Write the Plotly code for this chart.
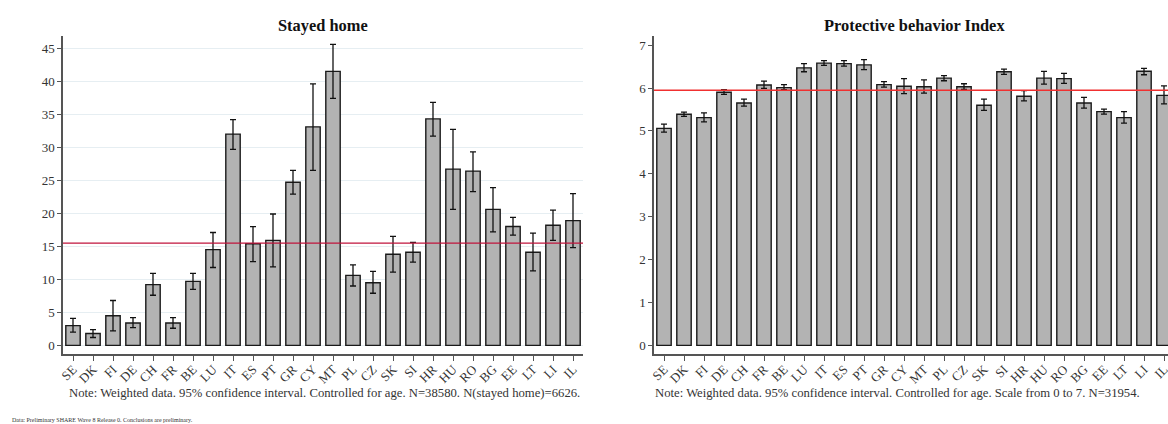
import plotly.graph_objects as go

countries = ["SE", "DK", "FI", "DE", "CH", "FR", "BE", "LU", "IT", "ES", "PT", "GR", "CY", "MT",
             "PL", "CZ", "SK", "SI", "HR", "HU", "RO", "BG", "EE", "LT", "LI", "IL"]

stayed_home = [3.0, 1.8, 4.5, 3.4, 9.2, 3.4, 9.7, 14.5, 32.0, 15.4, 15.9, 24.7, 33.1, 41.5,
               10.6, 9.5, 13.8, 14.1, 34.3, 26.7, 26.4, 20.6, 18.0, 14.1, 18.2, 18.9]
stayed_hi = [4.1, 2.4, 6.8, 4.2, 10.9, 4.2, 10.9, 17.1, 34.2, 18.0, 19.9, 26.5, 39.6, 45.6,
             12.2, 11.2, 16.5, 15.6, 36.8, 32.7, 29.3, 23.9, 19.4, 17.0, 20.5, 23.0]
stayed_lo = [2.0, 1.2, 2.2, 2.7, 7.6, 2.6, 8.5, 11.8, 29.7, 12.7, 11.9, 22.9, 26.5, 37.4,
             9.0, 7.9, 11.1, 12.6, 31.7, 20.6, 23.3, 17.2, 16.7, 11.3, 15.9, 14.8]
stayed_mean = 15.5

protect = [5.06, 5.39, 5.31, 5.90, 5.65, 6.07, 6.01, 6.47, 6.58, 6.57, 6.54, 6.08, 6.04, 6.03,
           6.23, 6.03, 5.60, 6.38, 5.81, 6.23, 6.22, 5.65, 5.45, 5.31, 6.39, 5.83]
protect_hi = [5.16, 5.44, 5.42, 5.96, 5.74, 6.16, 6.08, 6.57, 6.64, 6.64, 6.66, 6.15, 6.22, 6.19,
              6.29, 6.10, 5.74, 6.44, 5.94, 6.39, 6.34, 5.78, 5.51, 5.45, 6.46, 6.05]
protect_lo = [4.97, 5.34, 5.21, 5.85, 5.58, 5.99, 5.96, 6.38, 6.53, 6.51, 6.43, 6.02, 5.87, 5.88,
              6.17, 5.97, 5.48, 6.32, 5.70, 6.09, 6.11, 5.53, 5.39, 5.18, 6.31, 5.63]
protect_mean = 5.95

W, H = 1168, 424
FONT = "Liberation Serif"


def px(x):
    return x / W


def py(y):
    return 1 - y / H


bar_style = dict(marker=dict(color="#b3b3b3", line=dict(color="#1a1a1a", width=1.4)), width=0.72)


def err(vals, hi, lo):
    return dict(type="data", symmetric=False,
                array=[h - v for h, v in zip(hi, vals)],
                arrayminus=[v - l for v, l in zip(vals, lo)],
                color="#111111", thickness=1.3, width=3)


fig = go.Figure()
fig.add_trace(go.Bar(x=countries, y=stayed_home, error_y=err(stayed_home, stayed_hi, stayed_lo),
                     xaxis="x", yaxis="y", showlegend=False, **bar_style))
fig.add_trace(go.Bar(x=countries, y=protect, error_y=err(protect, protect_hi, protect_lo),
                     xaxis="x2", yaxis="y2", showlegend=False, **bar_style))

fig.add_shape(type="line", xref="x domain", yref="y", x0=0, x1=1, y0=stayed_mean, y1=stayed_mean,
              line=dict(color="#c0143c", width=1.3), layer="above")
fig.add_shape(type="line", xref="x2 domain", yref="y2", x0=0, x1=1.02, y0=protect_mean, y1=protect_mean,
              line=dict(color="#f03030", width=1.5), layer="above")

tickfont = dict(family=FONT, size=13, color="#333333")
common_x = dict(type="category", showgrid=False, showline=True, linecolor="#555555", linewidth=1.5,
                ticks="outside", ticklen=5, tickcolor="#555555", tickangle=-45, tickfont=tickfont,
                automargin=False, zeroline=False, ticklabelstandoff=-4)
common_y = dict(showline=True, linecolor="#555555", linewidth=1.5, ticks="outside", ticklen=4,
                tickcolor="#555555", tickfont=tickfont, automargin=False, zeroline=False)

ydom = [py(354), py(35.7)]
fig.update_layout(
    width=W, height=H,
    margin=dict(l=0, r=0, t=0, b=0),
    paper_bgcolor="white", plot_bgcolor="white",
    bargap=0.28,
    font=dict(family=FONT),
    xaxis=dict(domain=[px(63), px(583)], range=[-0.5, 25.5], anchor="y", **common_x),
    yaxis=dict(domain=ydom, range=[-1.3, 46.9], tickvals=list(range(0, 50, 5)), anchor="x",
               showgrid=True, gridcolor="#e6eef2", gridwidth=1, **common_y),
    xaxis2=dict(domain=[px(654), 1.0], range=[-0.5, 25.2], anchor="y2", **common_x),
    yaxis2=dict(domain=ydom, range=[-0.2, 7.22], tickvals=list(range(0, 8)), anchor="x2",
                showgrid=False, **common_y),
)

annos = [
    dict(text="<b>Stayed home</b>", x=px(323), y=py(25), font=dict(size=16.4, color="#111111")),
    dict(text="<b>Protective behavior Index</b>", x=px(914), y=py(25), font=dict(size=16.4, color="#111111")),
    dict(text="Note: Weighted data. 95% confidence interval. Controlled for age. N=38580. N(stayed home)=6626.",
         x=px(325), y=py(393), font=dict(size=12.7, color="#333333")),
    dict(text="Note: Weighted data. 95% confidence interval. Controlled for age. Scale from 0 to 7. N=31954.",
         x=px(653), y=py(393), xanchor="left", font=dict(size=12.7, color="#333333")),
    dict(text="Data: Preliminary SHARE Wave 8 Release 0. Conclusions are preliminary.",
         x=px(10), y=py(420), xanchor="left", font=dict(size=6, color="#333333")),
]
for a in annos:
    a.setdefault("xanchor", "center")
    a.update(xref="paper", yref="paper", yanchor="middle", showarrow=False)
    a["font"]["family"] = FONT
    fig.add_annotation(**a)

fig.write_html("out.html", config={"displayModeBar": False},
               post_script="document.body.style.margin='0';")
